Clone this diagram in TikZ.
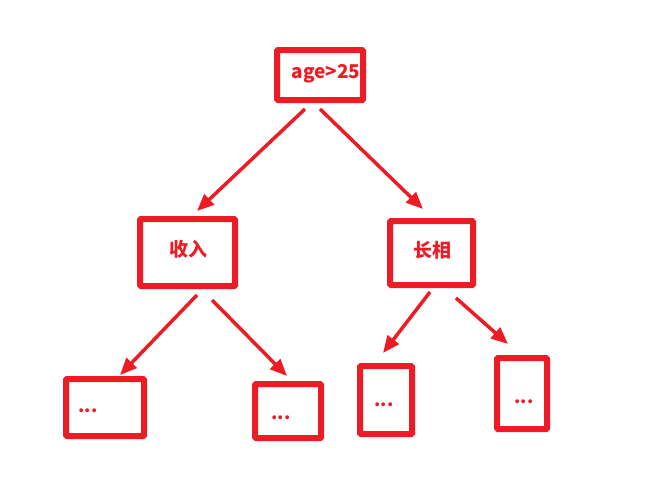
\documentclass[tikz,border=0pt]{standalone}
\usepackage{fontspec}
\setmainfont{Noto Sans CJK SC}
\usepackage{xcolor}
\usetikzlibrary{positioning,calc,arrows.meta}
\definecolor{treered}{RGB}{237,28,36}

\begin{document}
\begin{tikzpicture}[x=1pt,y=-1pt,
  box/.style={draw=treered,line width=6pt,rounded corners=1pt,inner sep=0pt},
  word/.style={text=treered,font=\bfseries\fontsize{19}{19}\selectfont},
  dots/.style={text=treered,font=\bfseries\fontsize{18}{18}\selectfont,inner sep=0pt},
  arr/.style={draw=treered,line width=3.5pt,-{Triangle[length=17pt,width=14pt]}}]
  \useasboundingbox (0,0) rectangle (672,493);
  % boxes
  \node[box,minimum width=86pt,minimum height=50pt] (root) at (320,75) {};
  \node[box,minimum width=95pt,minimum height=67pt] (inc) at (187.5,252.5) {};
  \node[box,minimum width=83pt,minimum height=64pt] (looks) at (431.5,253) {};
  \node[box,minimum width=78pt,minimum height=57pt] (leafa) at (105,407.5) {};
  \node[box,minimum width=66pt,minimum height=54pt] (leafb) at (288,411) {};
  \node[box,minimum width=52pt,minimum height=68pt] (leafc) at (386,400) {};
  \node[box,minimum width=50pt,minimum height=71pt] (leafd) at (522,393.5) {};
  % texts
  \node[word] (roottxt) at (326,74) {age>25};
  \node[word] (inctxt) at (188,249) {收入};
  \node[word] (lookstxt) at (432,250) {长相};
  \node[dots] (dotsa) at (88,411) {...};
  \node[dots] (dotsb) at (281,418) {...};
  \node[dots] (dotsc) at (384,405) {...};
  \node[dots] (dotsd) at (524,402) {...};
  % arrows
  \draw[arr] ($(root.south)+(-15,6)$) -- ($(inc.north)+(9.5,-5)$);
  \draw[arr] ($(root.south)+(0,6)$) -- ($(looks.north)+(-8.5,-9)$);
  \draw[arr] ($(inc.south)+(9.5,6)$) -- ($(leafa.north)+(15,-1)$);
  \draw[arr] ($(inc.south)+(24.5,11)$) -- ($(leafb.north)+(-1,-5)$);
  \draw[arr] ($(looks.south)+(-1.5,4)$) -- ($(leafc.north)+(-3,-10)$);
  \draw[arr] ($(looks.south)+(24.5,10)$) -- ($(leafd.north)+(-14,-11)$);
\end{tikzpicture}
\end{document}
